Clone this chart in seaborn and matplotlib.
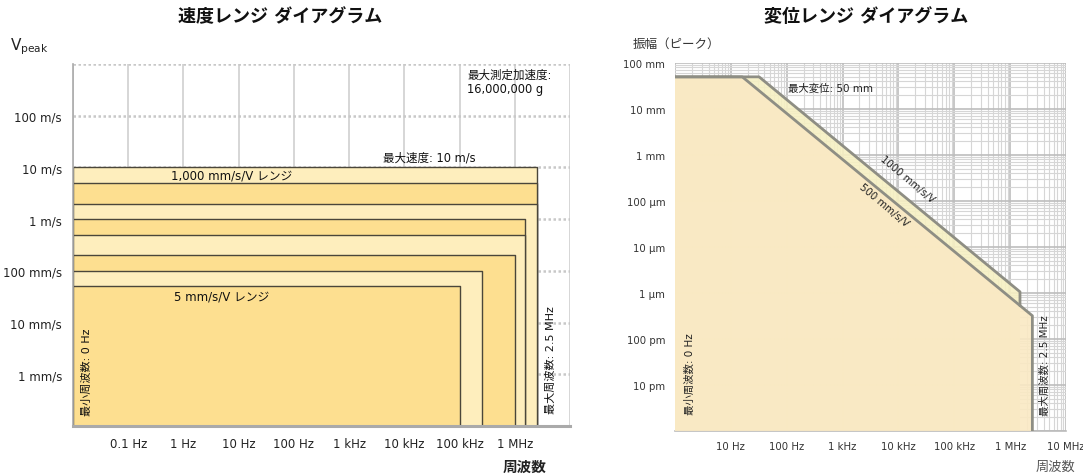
import numpy as np
import matplotlib
matplotlib.use("Agg")
import matplotlib.pyplot as plt
import seaborn as sns

# ---------------- data ----------------
# velocity range diagram (per range: sensitivity, max velocity [m/s], max frequency [Hz])
range_names = ["1000", "500", "200", "100", "50", "20", "10", "5"]
range_vmax = [10, 5, 2, 1, 0.5, 0.2, 0.1, 0.05]
range_fmax = [2.5e6, 2.5e6, 2.5e6, 1.5e6, 1.5e6, 1.0e6, 2.5e5, 1.0e5]

vel_xticks = [1e-2, 1e-1, 1, 10, 100, 1e3, 1e4, 1e5, 1e6, 1e7]
vel_xlabels = ["", "0.1 Hz", "1 Hz", "10 Hz", "100 Hz", "1 kHz", "10 kHz", "100 kHz", "1 MHz", ""]
vel_yticks = [1e-4, 1e-3, 1e-2, 1e-1, 1, 10, 100, 1000]
vel_ylabels = ["", "1 mm/s", "10 mm/s", "100 mm/s", "1 m/s", "10 m/s", "100 m/s", ""]

# displacement range diagram: boundary vertices (frequency [Hz], displacement [m])
disp1000_f = [1, 32, 1.5e6, 1.5e6]
disp1000_d = [0.05, 0.05, 1.06e-6, 5.3e-7]
disp500_f = [1, 16, 2.5e6, 2.5e6]
disp500_d = [0.05, 0.05, 3.2e-7, 1e-9]

disp_xticks = [1, 10, 100, 1e3, 1e4, 1e5, 1e6, 1e7]
disp_xlabels = ["", "10 Hz", "100 Hz", "1 kHz", "10 kHz", "100 kHz", "1 MHz", "10 MHz"]
disp_yticks = [1e-9, 1e-8, 1e-7, 1e-6, 1e-5, 1e-4, 1e-3, 1e-2, 1e-1]
disp_ylabels = ["", "10 pm", "100 pm", "1 µm", "10 µm", "100 µm", "1 mm", "10 mm", "100 mm"]

# ---------------- style ----------------
sns.set_theme(style="white")
plt.rcParams["font.family"] = ["DejaVu Sans", "Noto Sans CJK JP"]
plt.rcParams["axes.unicode_minus"] = False

W, H = 1083, 477
fig = plt.figure(figsize=(W / 100, H / 100), dpi=100)

def px(x, y):
    return x / W, 1 - y / H

def axes_px(x0, y0, x1, y1):
    return fig.add_axes([x0 / W, 1 - y1 / H, (x1 - x0) / W, (y1 - y0) / H])

# ================= left: velocity =================
ax = axes_px(73, 65, 570, 427)
ax.set_xscale("log")
ax.set_yscale("log")
ax.set_xlim(1e-2, 1e7)
ax.set_ylim(1e-4, 1e3)
ax.set_axisbelow(True)
ax.grid(True, which="major", axis="x", color="#d0d0d0", lw=1.2, ls="-")
ax.grid(True, which="major", axis="y", color="#c8c8c8", lw=1.8, ls=(0, (1, 1)))
ax.grid(True, which="minor", color="#e6e6e6", lw=0.6, ls=(0, (1, 1)))

light = "#FEEEBD"
dark = "#FDDF90"
for i, (v, f) in enumerate(zip(range_vmax, range_fmax)):
    col = light if i % 2 == 0 else dark
    ax.fill_between([1e-2, f], 1e-4, v, facecolor=col, edgecolor="#4a463a", lw=1.0, zorder=2)

ax.set_xticks(vel_xticks)
ax.set_xticklabels(vel_xlabels)
ax.set_yticks(vel_yticks)
ax.set_yticklabels(vel_ylabels)
ax.minorticks_off()
ax.tick_params(axis="both", which="major", length=4, width=1.2, color="#999999",
               labelsize=8.5, labelcolor="#222222", direction="out")
ax.tick_params(axis="x", pad=4)
ax.tick_params(axis="y", pad=4)
for s in ["top", "right"]:
    ax.spines[s].set_visible(False)
ax.spines["left"].set_color("#aaaaaa")
ax.spines["left"].set_linewidth(1.2)
ax.spines["bottom"].set_color("#aaaaaa")
ax.spines["bottom"].set_linewidth(2.2)

fig.text(*px(280, 17), "速度レンジ ダイアグラム", ha="center", va="center",
         fontsize=13, fontweight="bold", color="#111111")
fig.text(*px(10, 47), r"V$_{\mathrm{peak}}$", ha="left", va="center", fontsize=11, color="#222222")
fig.text(*px(525, 467), "周波数", ha="center", va="center", fontsize=10.5,
         fontweight="bold", color="#222222")
fig.text(*px(467, 75), "最大測定加速度:", ha="left", va="center", fontsize=8.3, color="#111111")
fig.text(*px(467, 90), "16,000,000 g", ha="left", va="center", fontsize=8.3, color="#111111")
fig.text(*px(383, 158), "最大速度: 10 m/s", ha="left", va="center", fontsize=8.3, color="#111111")
fig.text(*px(171, 176), "1,000 mm/s/V レンジ", ha="left", va="center", fontsize=8.5, color="#111111")
fig.text(*px(174, 297), "5 mm/s/V レンジ", ha="left", va="center", fontsize=8.5, color="#111111")
fig.text(*px(87, 372), "最小周波数: 0 Hz", ha="center", va="center", rotation=90,
         fontsize=8, color="#111111")
fig.text(*px(551, 360), "最大周波数: 2.5 MHz", ha="center", va="center", rotation=90,
         fontsize=8, color="#111111")

# ================= right: displacement =================
bx = axes_px(675, 64, 1066, 432)
bx.set_xscale("log")
bx.set_yscale("log")
bx.set_xlim(1, 1e7)
bx.set_ylim(1e-9, 1e-1)
bx.set_axisbelow(True)
bx.grid(True, which="major", color="#bdbdbd", lw=1.2)
bx.grid(True, which="minor", color="#d6d6d6", lw=0.8)

outer_col = "#F6F0C3"
inner_col = "#FAE9C4"
bx.fill_between(disp1000_f[:3] + [disp1000_f[3]], 1e-9, disp1000_d[:3] + [1e-9],
                facecolor=outer_col, edgecolor="none", alpha=0.9, zorder=2)
bx.fill_between(disp500_f, 1e-9, disp500_d, facecolor=inner_col, edgecolor="none",
                alpha=0.9, zorder=3)
sns.lineplot(x=disp1000_f, y=disp1000_d, sort=False, estimator=None, ax=bx,
             color="#8e8e84", lw=2, zorder=4)
sns.lineplot(x=disp500_f, y=disp500_d, sort=False, estimator=None, ax=bx,
             color="#8e8e84", lw=2, zorder=4)

bx.set_xticks(disp_xticks)
bx.set_xticklabels(disp_xlabels)
bx.set_yticks(disp_yticks)
bx.set_yticklabels(disp_ylabels)
bx.tick_params(axis="both", which="major", length=3, width=1, color="#aaaaaa",
               labelsize=7.3, labelcolor="#333333", direction="out")
bx.tick_params(axis="both", which="minor", length=0)
bx.tick_params(axis="x", pad=4)
bx.tick_params(axis="y", pad=4)
for s in ["top", "right", "left"]:
    bx.spines[s].set_visible(False)
bx.spines["bottom"].set_color("#bbbbbb")
bx.spines["bottom"].set_linewidth(1.2)

fig.text(*px(866, 17), "変位レンジ ダイアグラム", ha="center", va="center",
         fontsize=13, fontweight="bold", color="#111111")
fig.text(*px(633, 44), "振幅（ピーク）", ha="left", va="center", fontsize=9, color="#333333")
fig.text(*px(1055, 467), "周波数", ha="center", va="center", fontsize=9.5, color="#555555")
fig.text(*px(788, 89), "最大変位: 50 mm", ha="left", va="center", fontsize=7.5, color="#222222")
fig.text(*px(907, 180), "1000 mm/s/V", ha="center", va="center", rotation=-40,
         fontsize=7.3, color="#222222")
fig.text(*px(884, 206), "500 mm/s/V", ha="center", va="center", rotation=-40,
         fontsize=7.3, color="#222222")
fig.text(*px(690, 374), "最小周波数: 0 Hz", ha="center", va="center", rotation=90,
         fontsize=7.5, color="#222222")
fig.text(*px(1045, 366), "最大周波数: 2.5 MHz", ha="center", va="center", rotation=90,
         fontsize=7.5, color="#222222")

fig.savefig("out.png", dpi=100)
